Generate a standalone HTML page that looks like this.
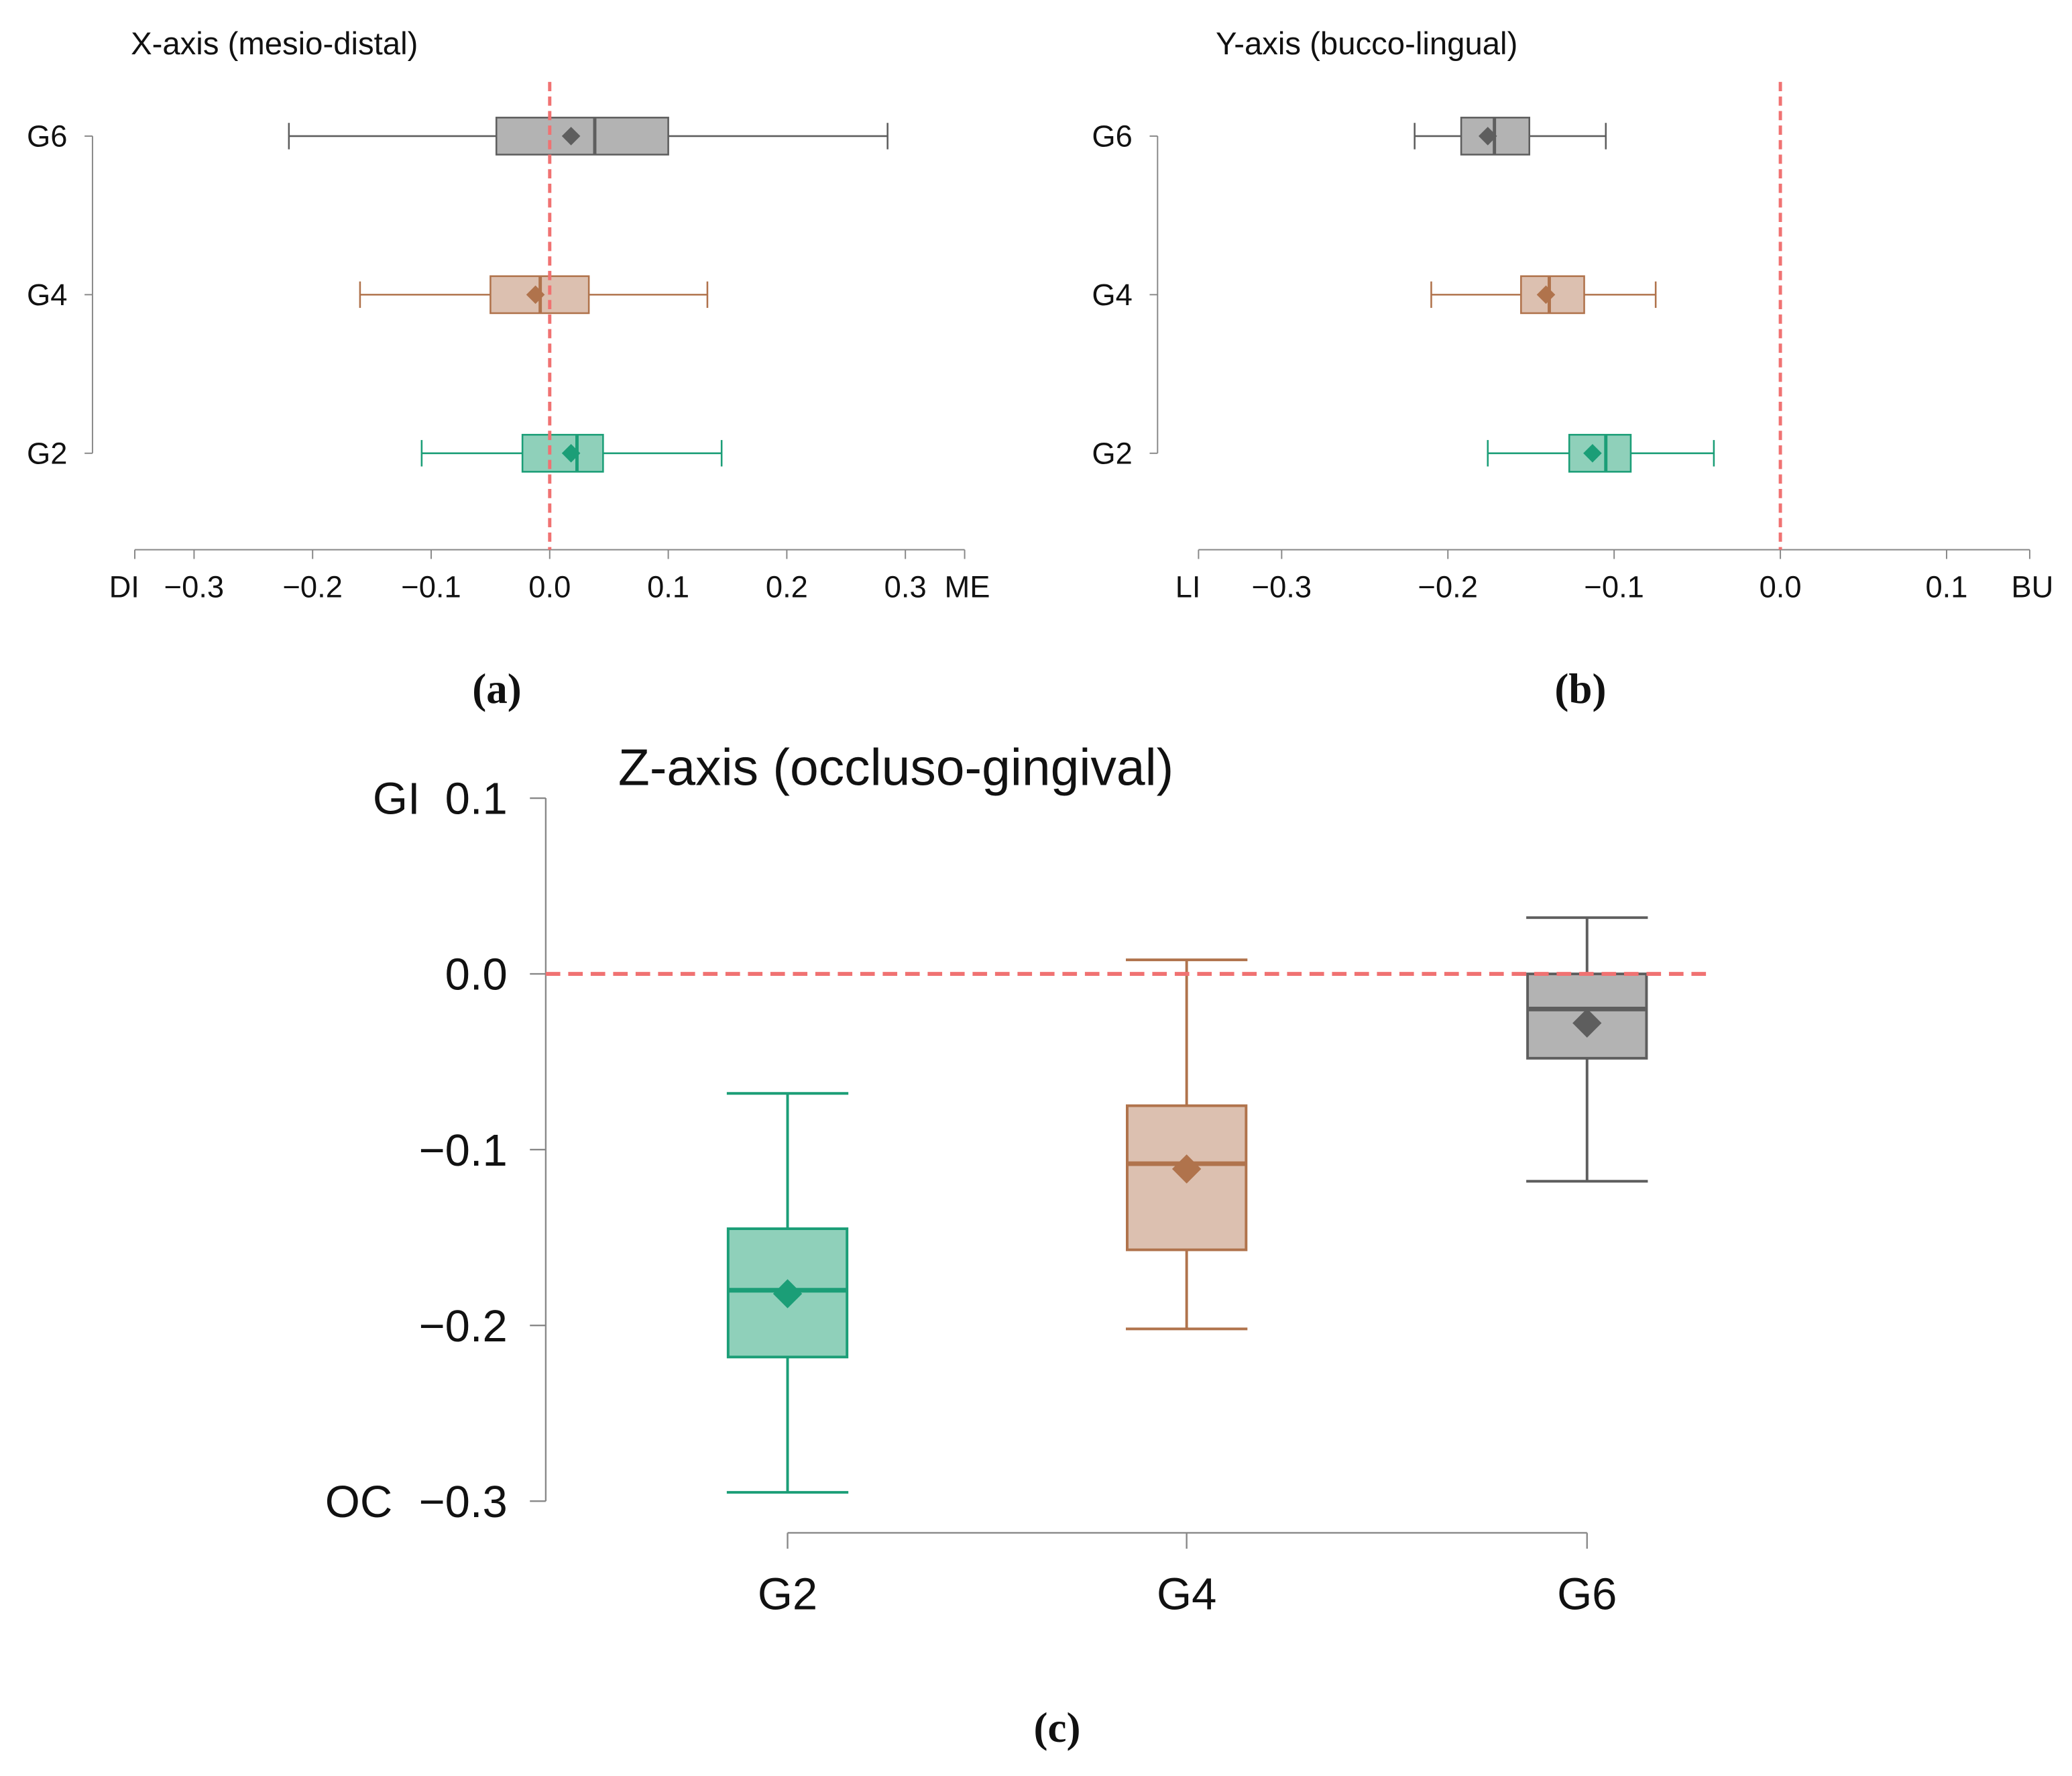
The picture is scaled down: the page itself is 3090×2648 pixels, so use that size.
<!DOCTYPE html>
<html><head><meta charset="utf-8">
<style>
html,body{margin:0;padding:0;background:#fff;}
svg{display:block;}
text{font-family:"Liberation Sans",sans-serif;fill:#111;}
.cap{font-family:"Liberation Serif",serif;font-weight:bold;}
</style></head>
<body>
<svg id="fig" width="3090" height="2648" viewBox="0 0 1568 1344" preserveAspectRatio="none" xmlns="http://www.w3.org/2000/svg">
<text x="99" y="41" font-size="24">X-axis (mesio-distal)</text>
<text x="920" y="41" font-size="24">Y-axis (bucco-lingual)</text>
<text x="678" y="594" font-size="39" text-anchor="middle">Z-axis (occluso-gingival)</text>
<text x="376" y="532" font-size="32" text-anchor="middle" class="cap">(a)</text>
<text x="1196" y="532" font-size="32" text-anchor="middle" class="cap">(b)</text>
<text x="800" y="1318" font-size="32" text-anchor="middle" class="cap">(c)</text>
</svg>
<script>
const groups = ["G2","G4","G6"];
// [whiskerLow, q1, median, q3, whiskerHigh, mean]
const xStats = [[-0.108,-0.023,0.023,0.045,0.145,0.018],[-0.16,-0.05,-0.008,0.033,0.133,-0.012],[-0.22,-0.045,0.038,0.10,0.285,0.018]];
const yStats = [[-0.176,-0.127,-0.105,-0.09,-0.04,-0.113],[-0.21,-0.156,-0.139,-0.118,-0.075,-0.141],[-0.22,-0.192,-0.172,-0.151,-0.105,-0.176]];
const zStats = [[-0.295,-0.218,-0.18,-0.145,-0.068,-0.182],[-0.202,-0.157,-0.108,-0.075,0.008,-0.111],[-0.118,-0.048,-0.02,0.0,0.032,-0.028]];
const xTicks = [-0.3,-0.2,-0.1,0.0,0.1,0.2,0.3];
const yTicks = [-0.3,-0.2,-0.1,0.0,0.1];
const zTicks = [0.1,0.0,-0.1,-0.2,-0.3];
const strokeCols = ["#1b9e77","#b0734c","#5e5e5e"];
const fillCols = ["#8fd0ba","#dcc0b0","#b3b3b3"];
const NS="http://www.w3.org/2000/svg";
const svg=document.getElementById('fig');
function el(tag,attrs){const e=document.createElementNS(NS,tag);for(const k in attrs)e.setAttribute(k,attrs[k]);svg.appendChild(e);return e;}
function fmt(v){const s=Math.abs(v).toFixed(1);return v<-1e-9?"\u2212"+s:s;}
const catY=[343,223,103];

function horizPanel(stats,ticks,x0,x1,v0,v1,yAxisX,lblL,lblR,pfx){
  const sx=v=>x0+(v-v0)/(v1-v0)*(x1-x0);
  let a=el('line',{x1:yAxisX,y1:103,x2:yAxisX,y2:343,stroke:'#888','stroke-width':1});
  
  groups.forEach((g,i)=>{
    let t=el('line',{x1:yAxisX,y1:catY[i],x2:yAxisX-6,y2:catY[i],stroke:'#888'});
    
    let l=el('text',{x:yAxisX-19,y:catY[i]+8,'font-size':23,'text-anchor':'end'});l.textContent=g;
    
  });
  let xa=el('line',{x1:x0,y1:416,x2:x1,y2:416,stroke:'#888'});
  
  [v0,...ticks,v1].forEach(v=>{let t=el('line',{x1:sx(v),y1:416,x2:sx(v),y2:423,stroke:'#888'});
    });
  ticks.forEach(v=>{let l=el('text',{x:sx(v),y:452,'font-size':23,'text-anchor':'middle'});l.textContent=fmt(v);
    });
  let L=el('text',{x:sx(v0)-8,y:452,'font-size':23,'text-anchor':'middle'});L.textContent=lblL;
  
  let R=el('text',{x:sx(v1)+2,y:452,'font-size':23,'text-anchor':'middle'});R.textContent=lblR;
  
  stats.forEach((s,i)=>{
    const y=catY[i],c=strokeCols[i],h=14,cap=10;
    let w=el('line',{x1:sx(s[0]),y1:y,x2:sx(s[4]),y2:y,stroke:c,'stroke-width':1.3});
    
    [s[0],s[4]].forEach(v=>{let k=el('line',{x1:sx(v),y1:y-cap,x2:sx(v),y2:y+cap,stroke:c,'stroke-width':1.3});
      });
    let b=el('rect',{x:sx(s[1]),y:y-h,width:sx(s[3])-sx(s[1]),height:2*h,fill:fillCols[i],stroke:c,'stroke-width':1.3});
    
    let m=el('line',{x1:sx(s[2]),y1:y-h,x2:sx(s[2]),y2:y+h,stroke:c,'stroke-width':2.5});
    
    const mx=sx(s[5]),d=7;
    let mn=el('polygon',{points:`${mx},${y-d} ${mx+d},${y} ${mx},${y+d} ${mx-d},${y}`,fill:c});
    
  });
  let r=el('line',{x1:sx(0),y1:62,x2:sx(0),y2:416,stroke:'#f07272','stroke-width':2.5,'stroke-dasharray':'7,4'});
  
}
horizPanel(xStats,xTicks,102,730,-0.35,0.35,70,'DI','ME','panel-a');
horizPanel(yStats,yTicks.slice(0,5),907,1536,-0.35,0.15,876,'LI','BU','panel-b');

// panel c
const sz=v=>737-v*1330;
const catX=[596,898,1201];
let ya=el('line',{x1:413,y1:sz(0.1),x2:413,y2:sz(-0.3),stroke:'#888','stroke-width':1.2});

zTicks.forEach(v=>{
  let t=el('line',{x1:413,y1:sz(v),x2:401,y2:sz(v),stroke:'#888','stroke-width':1.2});
  
  let l=el('text',{x:384,y:sz(v)+12,'font-size':34,'text-anchor':'end'});l.textContent=fmt(v);
  
});
let gi=el('text',{x:318,y:sz(0.1)+12,'font-size':34,'text-anchor':'end'});gi.textContent='GI';

let oc=el('text',{x:297,y:sz(-0.3)+12,'font-size':34,'text-anchor':'end'});oc.textContent='OC';

let xa=el('line',{x1:catX[0],y1:1160,x2:catX[2],y2:1160,stroke:'#888','stroke-width':1.2});

groups.forEach((g,i)=>{
  let t=el('line',{x1:catX[i],y1:1160,x2:catX[i],y2:1172,stroke:'#888','stroke-width':1.2});
  
  let l=el('text',{x:catX[i],y:1218,'font-size':34,'text-anchor':'middle'});l.textContent=g;
  
});
zStats.forEach((s,i)=>{
  const x=catX[i],c=strokeCols[i],hw=45,cap=46;
  let w=el('line',{x1:x,y1:sz(s[0]),x2:x,y2:sz(s[4]),stroke:c,'stroke-width':2});
  
  [s[0],s[4]].forEach(v=>{let k=el('line',{x1:x-cap,y1:sz(v),x2:x+cap,y2:sz(v),stroke:c,'stroke-width':2});
    });
  let b=el('rect',{x:x-hw,y:sz(s[3]),width:2*hw,height:sz(s[1])-sz(s[3]),fill:fillCols[i],stroke:c,'stroke-width':2});
  
  let m=el('line',{x1:x-hw,y1:sz(s[2]),x2:x+hw,y2:sz(s[2]),stroke:c,'stroke-width':3.5});
  
  const my=sz(s[5]),d=11;
  let mn=el('polygon',{points:`${x},${my-d} ${x+d},${my} ${x},${my+d} ${x-d},${my}`,fill:c});
  
});
let rz=el('line',{x1:413,y1:sz(0),x2:1292,y2:sz(0),stroke:'#f07272','stroke-width':3,'stroke-dasharray':'11,6'});

</script>
</body></html>
